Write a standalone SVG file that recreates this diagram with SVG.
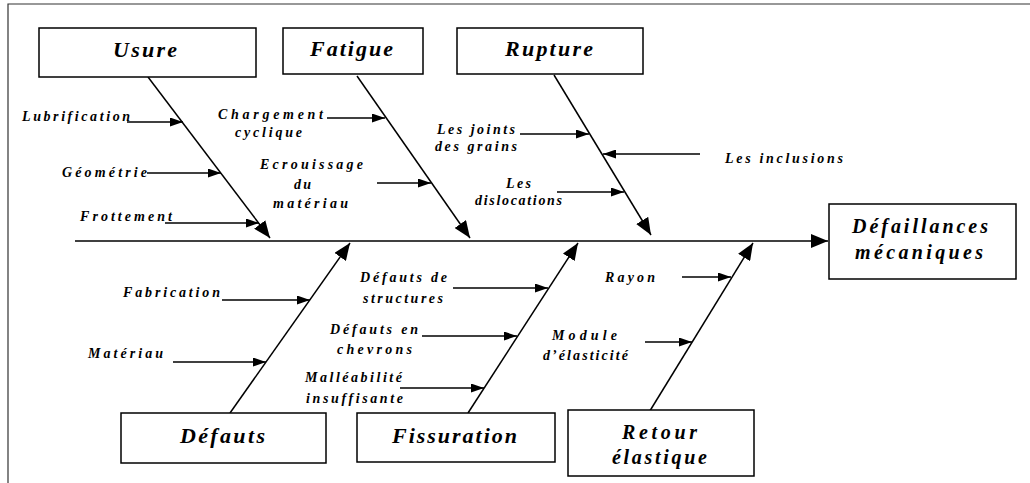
<svg xmlns="http://www.w3.org/2000/svg" width="1030" height="483" viewBox="0 0 1030 483">
<style>
.box{fill:#fff;stroke:#000;stroke-width:1.5}
.t{font-family:"Liberation Serif","Times New Roman",serif;font-weight:bold;font-style:italic;fill:#000}
.big{font-size:22px}
.mid{font-size:20px}
.sm{font-size:14px}
.bone{stroke:#000;stroke-width:1.5;fill:none;marker-end:url(#big)}
.sub{stroke:#000;stroke-width:1.3;fill:none;marker-end:url(#small)}
</style>
<defs>
<marker id="big" markerUnits="userSpaceOnUse" markerWidth="18" markerHeight="14" refX="17" refY="7" orient="auto">
<path d="M0,0 L17,7 L0,14 z" fill="#000"/>
</marker>
<marker id="small" markerUnits="userSpaceOnUse" markerWidth="13" markerHeight="9" refX="13" refY="4.5" orient="auto">
<path d="M0,0 L13,4.5 L0,9 z" fill="#000"/>
</marker>
</defs>
<rect width="1030" height="483" fill="#fff"/>
<path d="M8,483 L8,4 L1030,4" stroke="#333" stroke-width="1.2" fill="none"/>

<g id="connectors">
<path class="bone" d="M75,241 L828,241"/>
<path class="bone" d="M148,77 L270,238"/>
<path class="bone" d="M357,76 L470,238"/>
<path class="bone" d="M554,75 L651,235"/>
<path class="bone" d="M230,413 L350,243"/>
<path class="bone" d="M468,413 L578,243"/>
<path class="bone" d="M648,414 L753,243"/>
<path class="sub" d="M127,122 L183,122"/>
<path class="sub" d="M147,173 L221,173"/>
<path class="sub" d="M165,223 L259,223"/>
<path class="sub" d="M327,118 L385,118"/>
<path class="sub" d="M377,183 L431,183"/>
<path class="sub" d="M520,134 L589,134"/>
<path class="sub" d="M700,154 L603,154"/>
<path class="sub" d="M557,192 L624,192"/>
<path class="sub" d="M222,300 L310,300"/>
<path class="sub" d="M173,362 L266,362"/>
<path class="sub" d="M453,288 L548,288"/>
<path class="sub" d="M422,336 L517,336"/>
<path class="sub" d="M400,388 L484,388"/>
<path class="sub" d="M682,277 L731,277"/>
<path class="sub" d="M645,342 L692,342"/>
</g>

<g id="usure"><rect class="box" x="39" y="28" width="217" height="49"/><text class="t big" x="113" y="57" textLength="64" lengthAdjust="spacing">Usure</text></g>
<g id="fatigue"><rect class="box" x="283" y="28" width="140" height="46"/><text class="t big" x="310" y="56" textLength="83" lengthAdjust="spacing">Fatigue</text></g>
<g id="rupture"><rect class="box" x="457" y="28" width="186" height="46"/><text class="t big" x="505" y="56" textLength="88" lengthAdjust="spacing">Rupture</text></g>
<g id="defaillances"><rect class="box" x="829" y="204" width="187" height="75"/><text class="t mid" x="852" y="233" textLength="136" lengthAdjust="spacing">Défaillances</text><text class="t mid" x="855" y="259" textLength="128" lengthAdjust="spacing">mécaniques</text></g>
<g id="defauts"><rect class="box" x="121" y="413" width="205" height="50"/><text class="t big" x="180" y="443" textLength="85" lengthAdjust="spacing">Défauts</text></g>
<g id="fissuration"><rect class="box" x="357" y="413" width="198" height="49"/><text class="t big" x="392" y="443" textLength="125" lengthAdjust="spacing">Fissuration</text></g>
<g id="retour"><rect class="box" x="568" y="410" width="186" height="66"/><text class="t mid" x="622" y="439" textLength="75" lengthAdjust="spacing">Retour</text><text class="t mid" x="612" y="464" textLength="95" lengthAdjust="spacing">élastique</text></g>

<g id="labels">
<text class="t sm" x="22" y="121" textLength="108" lengthAdjust="spacing">Lubrification</text>
<text class="t sm" x="62" y="177" textLength="85" lengthAdjust="spacing">Géométrie</text>
<text class="t sm" x="80" y="221" textLength="92" lengthAdjust="spacing">Frottement</text>
<text class="t sm" x="218" y="119" textLength="105" lengthAdjust="spacing">Chargement</text>
<text class="t sm" x="235" y="137" textLength="67" lengthAdjust="spacing">cyclique</text>
<text class="t sm" x="260" y="169" textLength="103" lengthAdjust="spacing">Ecrouissage</text>
<text class="t sm" x="294" y="189" textLength="17" lengthAdjust="spacing">du</text>
<text class="t sm" x="273" y="208" textLength="75" lengthAdjust="spacing">matériau</text>
<text class="t sm" x="437" y="134" textLength="78" lengthAdjust="spacing">Les joints</text>
<text class="t sm" x="435" y="151" textLength="82" lengthAdjust="spacing">des grains</text>
<text class="t sm" x="725" y="163" textLength="118" lengthAdjust="spacing">Les inclusions</text>
<text class="t sm" x="506" y="188" textLength="25" lengthAdjust="spacing">Les</text>
<text class="t sm" x="475" y="205" textLength="87" lengthAdjust="spacing">dislocations</text>
<text class="t sm" x="123" y="297" textLength="97" lengthAdjust="spacing">Fabrication</text>
<text class="t sm" x="88" y="358" textLength="75" lengthAdjust="spacing">Matériau</text>
<text class="t sm" x="360" y="282" textLength="87" lengthAdjust="spacing">Défauts de</text>
<text class="t sm" x="363" y="303" textLength="80" lengthAdjust="spacing">structures</text>
<text class="t sm" x="330" y="334" textLength="88" lengthAdjust="spacing">Défauts en</text>
<text class="t sm" x="337" y="354" textLength="75" lengthAdjust="spacing">chevrons</text>
<text class="t sm" x="305" y="382" textLength="97" lengthAdjust="spacing">Malléabilité</text>
<text class="t sm" x="306" y="403" textLength="97" lengthAdjust="spacing">insuffisante</text>
<text class="t sm" x="605" y="282" textLength="50" lengthAdjust="spacing">Rayon</text>
<text class="t sm" x="552" y="340" textLength="65" lengthAdjust="spacing">Module</text>
<text class="t sm" x="543" y="360" textLength="85" lengthAdjust="spacing">d’élasticité</text>
</g>
</svg>
